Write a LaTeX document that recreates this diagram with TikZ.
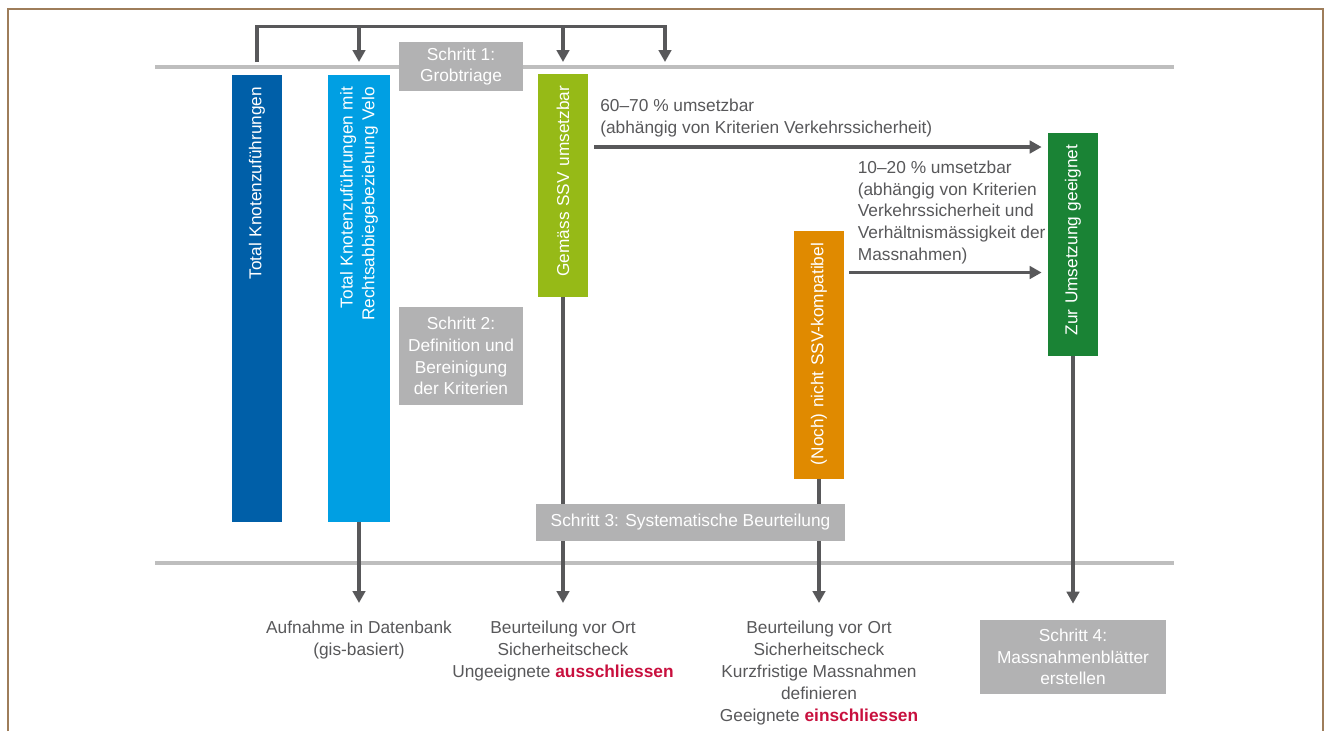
\documentclass[tikz,border=0pt]{standalone}
\usepackage{fontspec}
\setmainfont{Liberation Sans}
\usepackage{xcolor}
\usetikzlibrary{arrows.meta}
\definecolor{barblue}{HTML}{005FA8}
\definecolor{barcyan}{HTML}{009FE3}
\definecolor{barlime}{HTML}{96BA17}
\definecolor{barorange}{HTML}{E08A00}
\definecolor{bargreen}{HTML}{1A8335}
\definecolor{stepgray}{HTML}{B2B2B3}
\definecolor{rulegray}{HTML}{BEBEBE}
\definecolor{arrowgray}{HTML}{58585A}
\definecolor{accent}{HTML}{C8103E}
\definecolor{framebrown}{HTML}{9E7D5A}
\tikzstyle{bar} = [rectangle, rotate=90, inner ysep=0pt, inner xsep=0.24cm, align=right, text=white, font=\fontsize{9.8}{12.4}\selectfont]
\tikzstyle{schritt} = [rectangle, fill=stepgray, text=white, align=center, inner sep=0pt]
\tikzstyle{rule} = [draw=rulegray, line width=2pt]
\tikzstyle{conn} = [draw=arrowgray, line width=1.8pt]
\tikzstyle{note} = [inner sep=0pt, text=arrowgray]

\begin{document}
\begin{tikzpicture}[x=0.02cm,y=-0.02cm,>={Triangle[length=0.24cm,width=0.25cm]},font=\fontsize{9.85}{12.4}\selectfont]
  \useasboundingbox (0,0) rectangle (1325,731);
  \draw[framebrown, line width=1.2pt] (8,731) -- (8,9) -- (1323,9) -- (1323,731);

  % horizontal rules
  \draw[rule] (155,67) -- (1174,67);
  \draw[rule] (155,563) -- (1174,563);

  % bars
  \node[bar, fill=barblue, minimum width=8.94cm, minimum height=1cm, text width=8.46cm] (b1) at (257,298.5) {Total Knotenzuführungen};
  \node[bar, fill=barcyan, minimum width=8.94cm, minimum height=1.24cm, text width=8.46cm] (b2) at (359,298.5) {Total Knotenzuführungen mit\\Rechtsabbiegebeziehung Velo};
  \node[bar, fill=barlime, minimum width=4.46cm, minimum height=1cm, text width=3.98cm] (b3) at (563,185.5) {Gemäss SSV umsetzbar};
  \node[bar, fill=barorange, minimum width=4.96cm, minimum height=1cm, text width=4.48cm] (b4) at (819,355) {(Noch) nicht SSV-kompatibel};
  \node[bar, fill=bargreen, minimum width=4.46cm, minimum height=1cm, text width=3.98cm] (b5) at (1073,244.5) {Zur Umsetzung geeignet};

  % results below
  \node[note, anchor=north, align=center] (r1) at (b2.west |- 0,621) {Aufnahme in Datenbank\\(gis-basiert)};
  \node[note, anchor=north, align=center] (r2) at (b3.west |- 0,621) {Beurteilung vor Ort\\Sicherheitscheck\\Ungeeignete {\bfseries\color{accent}ausschliessen}};
  \node[note, anchor=north, align=center] (r3) at (b4.west |- 0,621) {Beurteilung vor Ort\\Sicherheitscheck\\Kurzfristige Massnahmen\\definieren\\Geeignete {\bfseries\color{accent}einschliessen}};

  % labels of the two flows
  \node[note, anchor=north west, align=left] (l1) at (600,99) {60–70 \% umsetzbar\\(abhängig von Kriterien Verkehrssicherheit)};
  \node[note, anchor=north west, align=left] (l2) at (857.5,160.5) {10–20 \% umsetzbar\\(abhängig von Kriterien\\Verkehrssicherheit und\\Verhältnismässigkeit der\\Massnahmen)};

  % top bracket
  \coordinate (t0) at (b1.east |- 0,62);
  \coordinate (t3) at (665,62);
  \draw[conn,->] (t0) |- (t3 |- 0,26.5) -- (t3);
  \draw[conn,->] (b2.east |- 0,26.5) -- (b2.east |- 0,62);
  \draw[conn,->] (b3.east |- 0,26.5) -- (b3.east |- 0,62);

  % arrows
  \draw[conn,->, shorten <=0.12cm, shorten >=0.12cm] (b3.south |- 0,147) -- (b5.north |- 0,147);
  \draw[conn,->, shorten <=0.1cm, shorten >=0.12cm] (b4.south |- 0,272.5) -- (b5.north |- 0,272.5);
  \draw[conn,->, shorten >=0.36cm] (b2.west) -- (r1.north);
  \draw[conn,->, shorten >=0.36cm] (b3.west) -- (r2.north);
  \draw[conn,->, shorten >=0.36cm] (b4.west) -- (r3.north);

  % steps
  \node[schritt, minimum width=2.48cm, minimum height=0.98cm] (s1) at (461,66.5) {Schritt 1:\\Grobtriage};
  \node[schritt, minimum width=2.48cm, minimum height=1.96cm] (s2) at (461,356) {Schritt 2:\\Definition und\\Bereinigung\\der Kriterien};
  \node[schritt, minimum width=6.18cm, minimum height=0.74cm] (s3) at (690.5,522) {Schritt 3: Systematische Beurteilung};
  \node[schritt, minimum width=3.72cm, minimum height=1.48cm] (s4) at (1073,657) {Schritt 4:\\Massnahmenblätter\\erstellen};
  \draw[conn,->, shorten >=0.32cm] (b5.west) -- (s4.north);
\end{tikzpicture}
\end{document}
